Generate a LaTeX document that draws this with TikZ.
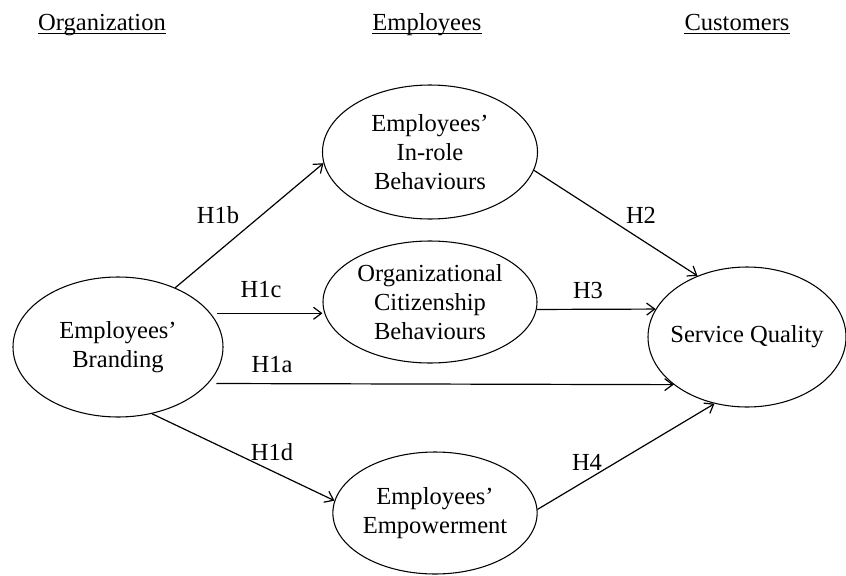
\documentclass[tikz,border=0pt]{standalone}
\usepackage{fontspec}
\setmainfont{Liberation Serif}
\usetikzlibrary{shapes.geometric,arrows.meta}
\begin{document}
\begin{tikzpicture}[x=0.75pt,y=-0.75pt,
  txt/.style={font=\fontsize{18.4}{21.8}\selectfont},
  ell/.style={txt,draw,ellipse,line width=0.8pt,inner sep=0pt,align=center},
  arr/.style={line width=0.9pt,-{Straight Barb[length=6pt,width=9pt]}},
  lab/.style={txt,inner sep=0pt},
  hdr/.style={txt,inner sep=0pt,anchor=base},
  uline/.style={line width=0.6pt}]
\useasboundingbox (0,0) rectangle (846,575);

% headers
\node[hdr] (horg) at (102,30) {Organization};
\node[hdr] (hemp) at (427,30) {Employees};
\node[hdr] (hcus) at (737,30) {Customers};
\draw[uline] ([yshift=-2.3pt]horg.base west) -- ([yshift=-2.3pt]horg.base east);
\draw[uline] ([yshift=-2.3pt]hemp.base west) -- ([yshift=-2.3pt]hemp.base east);
\draw[uline] ([yshift=-2.3pt]hcus.base west) -- ([yshift=-2.3pt]hcus.base east);

% ellipses
\node[ell,minimum width=157.5pt,minimum height=105pt] (brand) at (118,347) {Employees'\\Branding};
\node[ell,minimum width=161.25pt,minimum height=100.5pt] (inrole) at (430,152) {Employees'\\In-role\\Behaviours};
\node[ell,minimum width=160.5pt,minimum height=91.5pt] (ocb) at (430,302) {Organizational\\Citizenship\\Behaviours};
\node[ell,minimum width=148.5pt,minimum height=105pt] (sq) at (747,337) {\makebox[0pt]{Service Quality}};
\node[ell,minimum width=153pt,minimum height=91.5pt] (emp) at (435,513) {Employees'\\Empowerment};

% connectors
\draw[arr] (brand.46.5) -- (inrole.-174.2);
\draw[arr,shorten <=5pt] (brand.20.4) -- (ocb.west |- brand.20.4);
\draw[arr,shorten <=6pt] (brand.-22.8) -- (sq.213);
\draw[arr] (brand.-63.4) -- (emp.173);
\draw[arr] (inrole.-10.5) -- (sq.129.8);
\draw[arr] (ocb.-4.3) -- (sq.163.5);
\draw[arr] (emp.2) -- (sq.-116.9);

% labels
\node[lab] (l1b) at (218,215) {H1b};
\node[lab] (l1c) at (261,290) {H1c};
\node[lab] (l1a) at (272,365) {H1a};
\node[lab] (l1d) at (272,452) {H1d};
\node[lab] (l2) at (641,215) {H2};
\node[lab] (l3) at (588,290) {H3};
\node[lab] (l4) at (587,462) {H4};
\end{tikzpicture}
\end{document}
